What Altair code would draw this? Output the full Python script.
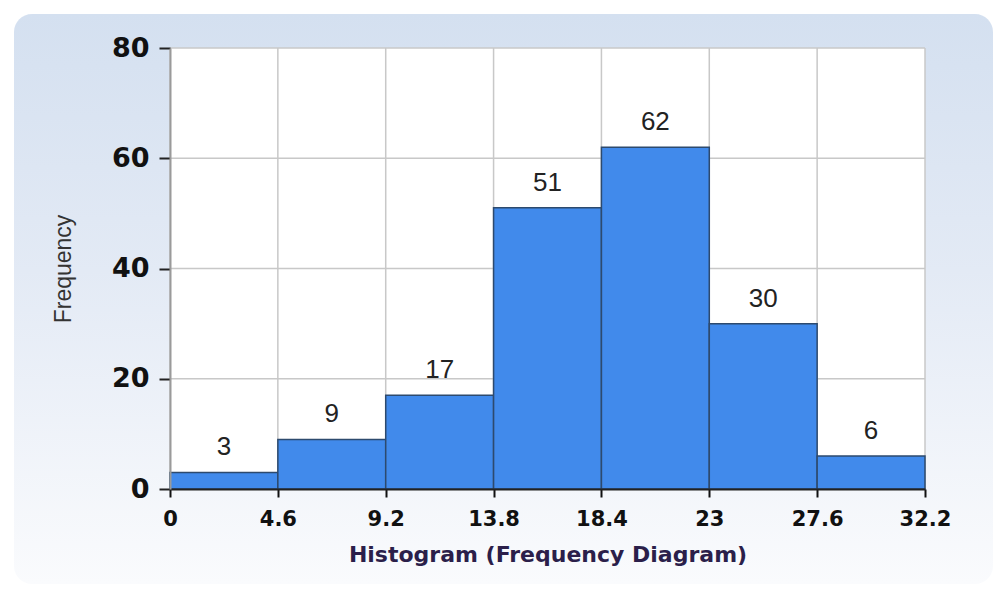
import altair as alt
import pandas as pd

bin_starts = [0, 4.6, 9.2, 13.8, 18.4, 23, 27.6]
bin_ends = [4.6, 9.2, 13.8, 18.4, 23, 27.6, 32.2]
counts = [3, 9, 17, 51, 62, 30, 6]
x_ticks = [0, 4.6, 9.2, 13.8, 18.4, 23, 27.6, 32.2]
y_ticks = [0, 20, 40, 60, 80]

W, H = 755, 441

df = pd.DataFrame({"start": bin_starts, "end": bin_ends, "count": counts})
df["mid"] = [(a + b) / 2 for a, b in zip(bin_starts, bin_ends)]
xt = pd.DataFrame({"v": x_ticks})
yt = pd.DataFrame({"v": y_ticks})
one = pd.DataFrame({"k": [0]})

x_scale = alt.Scale(domain=[0, 32.2], nice=False, zero=False)
y_scale = alt.Scale(domain=[0, 80], nice=False)

x_axis = alt.Axis(
    values=x_ticks, format=".1~f", title="Histogram (Frequency Diagram)",
    labelFont="DejaVu Sans", labelFontWeight="bold", labelFontSize=21, labelColor="#111111",
    labelPadding=11, labelFlush=False, tickSize=8, tickColor="#111111", tickWidth=2,
    domainColor="#222222", domainWidth=2,
    titleFont="DejaVu Sans", titleFontWeight="bold", titleFontSize=22, titleColor="#2b1f4a",
    titlePadding=15, grid=False, zindex=1,
)
y_axis = alt.Axis(
    values=y_ticks, title="Frequency",
    labelFont="DejaVu Sans", labelFontWeight="bold", labelFontSize=27, labelColor="#111111",
    labelPadding=10, tickSize=11, tickColor="#222222", tickWidth=2,
    domainColor="#9a9a9a", domainWidth=2,
    titleFont="Liberation Sans", titleFontWeight="normal", titleFontSize=23, titleColor="#333333",
    titlePadding=36, grid=False, zindex=1,
)

panel = alt.Chart(one).mark_rect(
    cornerRadius=18,
    fill=alt.Gradient(
        gradient="linear",
        stops=[
            alt.GradientStop(color="#d4e0f0", offset=0),
            alt.GradientStop(color="#e3eaf5", offset=0.45),
            alt.GradientStop(color="#fafbfd", offset=1),
        ],
        x1=0, x2=0, y1=0, y2=1,
    ),
).encode(
    x=alt.value(-156), x2=alt.value(W + 68), y=alt.value(-34), y2=alt.value(H + 95)
)

plotbg = alt.Chart(one).mark_rect(fill="white").encode(
    x=alt.datum(0, scale=x_scale), x2=alt.datum(32.2),
    y=alt.datum(0, scale=y_scale), y2=alt.datum(80),
)

vgrid = alt.Chart(xt).mark_rule(color="#c8c8c8", strokeWidth=1.5).encode(
    x=alt.X("v:Q", scale=x_scale, axis=x_axis),
    y=alt.datum(0, scale=y_scale), y2=alt.datum(80),
)
hgrid = alt.Chart(yt).mark_rule(color="#c8c8c8", strokeWidth=1.5).encode(
    y=alt.Y("v:Q", scale=y_scale, axis=y_axis),
    x=alt.datum(0, scale=x_scale), x2=alt.datum(32.2),
)

bars = alt.Chart(df).mark_rect(fill="#418aeb", stroke="#2d4a6e", strokeWidth=1.5).encode(
    x=alt.X("start:Q", scale=x_scale),
    x2="end:Q",
    y=alt.Y("count:Q", scale=y_scale),
    y2=alt.datum(0),
)

labels = alt.Chart(df).mark_text(
    font="Liberation Sans", fontSize=26, color="#222222", baseline="middle", dy=-25
).encode(
    x=alt.X("mid:Q", scale=x_scale),
    y=alt.Y("count:Q", scale=y_scale),
    text="count:Q",
)

chart = (
    alt.layer(panel, plotbg, vgrid, hgrid, bars, labels)
    .properties(
        width=W,
        height=H,
        autosize=alt.AutoSizeParams(type="none"),
        padding={"left": 162, "top": 40, "right": 70, "bottom": 99},
        background="white",
    )
    .configure_view(stroke=None)
)

chart.save("out.html", embed_options={"renderer": "svg", "actions": False})
